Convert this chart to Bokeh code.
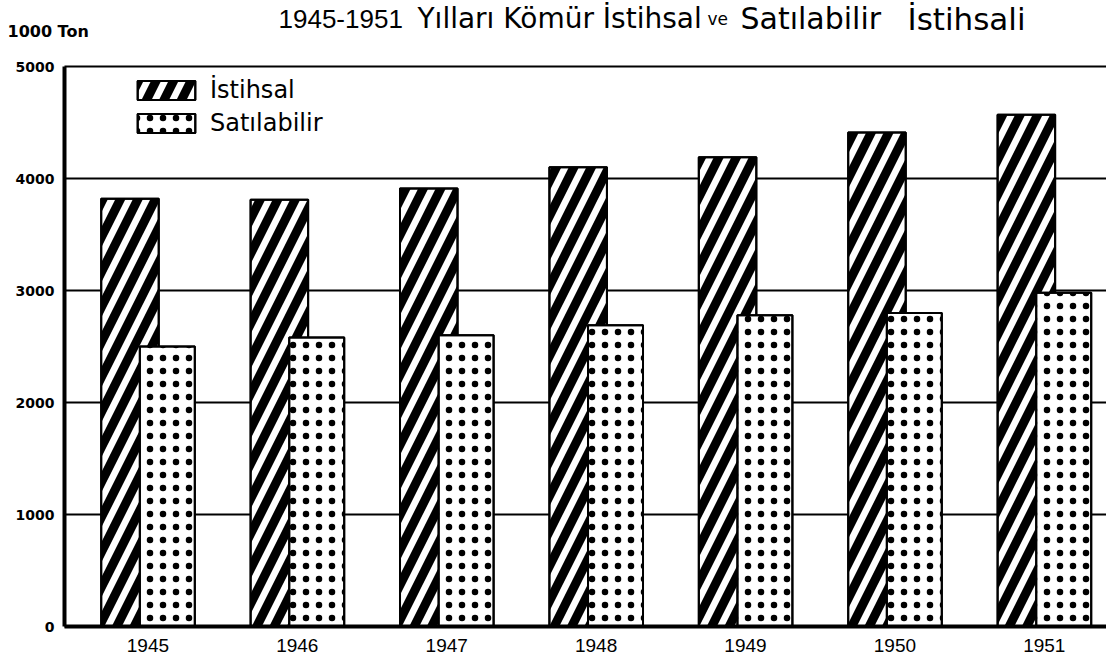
from bokeh.plotting import figure
from bokeh.models import FixedTicker, Label, Legend, LegendItem, Range1d, ColumnDataSource
from bokeh.transform import dodge
from bokeh.embed import file_html
from bokeh.resources import INLINE

# ---------------- data ----------------
years = [1945, 1946, 1947, 1948, 1949, 1950, 1951]
year_labels = ["1945", "1946", "1947", "1948", "1949", "1950", "1951"]
istihsal = [3820, 3810, 3910, 4100, 4190, 4410, 4570]
satilabilir = [2500, 2580, 2600, 2690, 2780, 2800, 2980]
y_ticks = [0, 1000, 2000, 3000, 4000, 5000]
y_tick_labels = ["0", "1000", "2000", "3000", "4000", "5000"]
series_names = ["İstihsal", "Satılabilir"]
title_parts = ["1945-1951", "Yılları Kömür İstihsal", "ve", "Satılabilir", "İstihsali"]
unit_label = "1000 Ton"

# ---------------- layout (pixel geometry -> data mapping) ----------------
W, H = 1106, 666
PX_PER_YEAR = 149.4
PX_1945 = 147.4          # pixel x of the 1945 tick
PX_ZERO = 626            # pixel y of value 0
PX_PER_UNIT = 0.112      # pixels per unit
AXIS_PX = 64             # pixel x of the value axis


def xd(px):
    return years[0] + (px - PX_1945) / PX_PER_YEAR


def yd(py):
    return (PX_ZERO - py) / PX_PER_UNIT


X_AXIS = xd(AXIS_PX)
X_END = xd(W)

src = ColumnDataSource(dict(year=years, ist=istihsal, sat=satilabilir))

p = figure(width=W, height=H, output_backend="svg", toolbar_location=None,
           title=None,
           x_range=Range1d(xd(0), X_END), y_range=Range1d(yd(H), yd(0)),
           min_border_left=0, min_border_right=0, min_border_top=0, min_border_bottom=0)
p.outline_line_color = None
p.background_fill_color = "white"
p.border_fill_color = "white"
p.xgrid.visible = False
p.ygrid.visible = False

# horizontal reference lines at the y ticks, from the axis to the right edge
p.segment(x0=[X_AXIS] * len(y_ticks), y0=y_ticks, x1=[X_END] * len(y_ticks), y1=y_ticks,
          line_color="black", line_width=1.8)

# bars: base fills, then hatch overlays (black stripes leave thin white gaps)
r1a = p.vbar(x=dodge("year", -0.12), top="ist", width=0.385, bottom=0, source=src,
             fill_color="white", line_color="black", line_width=2)
r1b = p.vbar(x=dodge("year", -0.12), top="ist", width=0.385, bottom=0, source=src,
             fill_color=None, line_color="black", line_width=2,
             hatch_pattern="/", hatch_color="black", hatch_scale=35, hatch_weight=9)
r2a = p.vbar(x=dodge("year", 0.13), top="sat", width=0.368, bottom=0, source=src,
             fill_color="white", line_color="black", line_width=2)
r2b = p.vbar(x=dodge("year", 0.13), top="sat", width=0.368, bottom=0, source=src,
             fill_color=None, line_color="black", line_width=2,
             hatch_pattern=".", hatch_color="black", hatch_scale=13, hatch_weight=0.6)

legend = Legend(items=[LegendItem(label=series_names[0], renderers=[r1a, r1b]),
                       LegendItem(label=series_names[1], renderers=[r2a, r2b])],
                location=(130, H - 137), padding=0, margin=0, spacing=5,
                glyph_width=72, glyph_height=24, label_height=24, label_standoff=8,
                border_line_color=None, background_fill_alpha=0,
                label_text_font="DejaVu Sans", label_text_font_size="24px",
                label_text_color="black")
p.add_layout(legend)

# axes drawn at fixed locations inside the frame
p.xaxis.ticker = FixedTicker(ticks=years)
p.xaxis.major_label_overrides = dict(zip(years, year_labels))
p.xaxis.fixed_location = 0
p.xaxis.bounds = (X_AXIS, X_END)
p.yaxis.ticker = FixedTicker(ticks=y_ticks)
p.yaxis.major_label_overrides = dict(zip(y_ticks, y_tick_labels))
p.yaxis.fixed_location = X_AXIS
p.yaxis.bounds = (0, 5000)
for ax in (p.xaxis, p.yaxis):
    ax.axis_line_color = "black"
    ax.axis_line_width = 4
    ax.major_tick_line_color = None
    ax.minor_tick_line_color = None
    ax.major_label_text_color = "black"
p.xaxis.major_label_text_font = "Liberation Sans"
p.xaxis.major_label_text_font_size = "19px"
p.xaxis.major_label_standoff = 6
p.yaxis.major_label_text_font = "DejaVu Sans"
p.yaxis.major_label_text_font_style = "bold"
p.yaxis.major_label_text_font_size = "14px"
p.yaxis.major_label_standoff = 4

# title texts
fonts = ["Liberation Sans", "DejaVu Sans", "DejaVu Sans", "DejaVu Sans", "DejaVu Sans"]
sizes = ["26px", "28px", "17px", "30px", "31px"]
xs_px = [278, 417, 707, 740, 907]
for t, f, s, xp in zip(title_parts, fonts, sizes, xs_px):
    p.add_layout(Label(x=xd(xp), y=yd(18), text=t, text_font=f, text_font_size=s,
                       text_baseline="alphabetic", text_align="left", text_color="black"))

p.add_layout(Label(x=xd(7), y=yd(31), text=unit_label, text_font="DejaVu Sans",
                   text_font_style="bold", text_font_size="16px",
                   text_baseline="alphabetic", text_align="left", text_color="black"))

open("out.html", "w").write(file_html(p, INLINE))
